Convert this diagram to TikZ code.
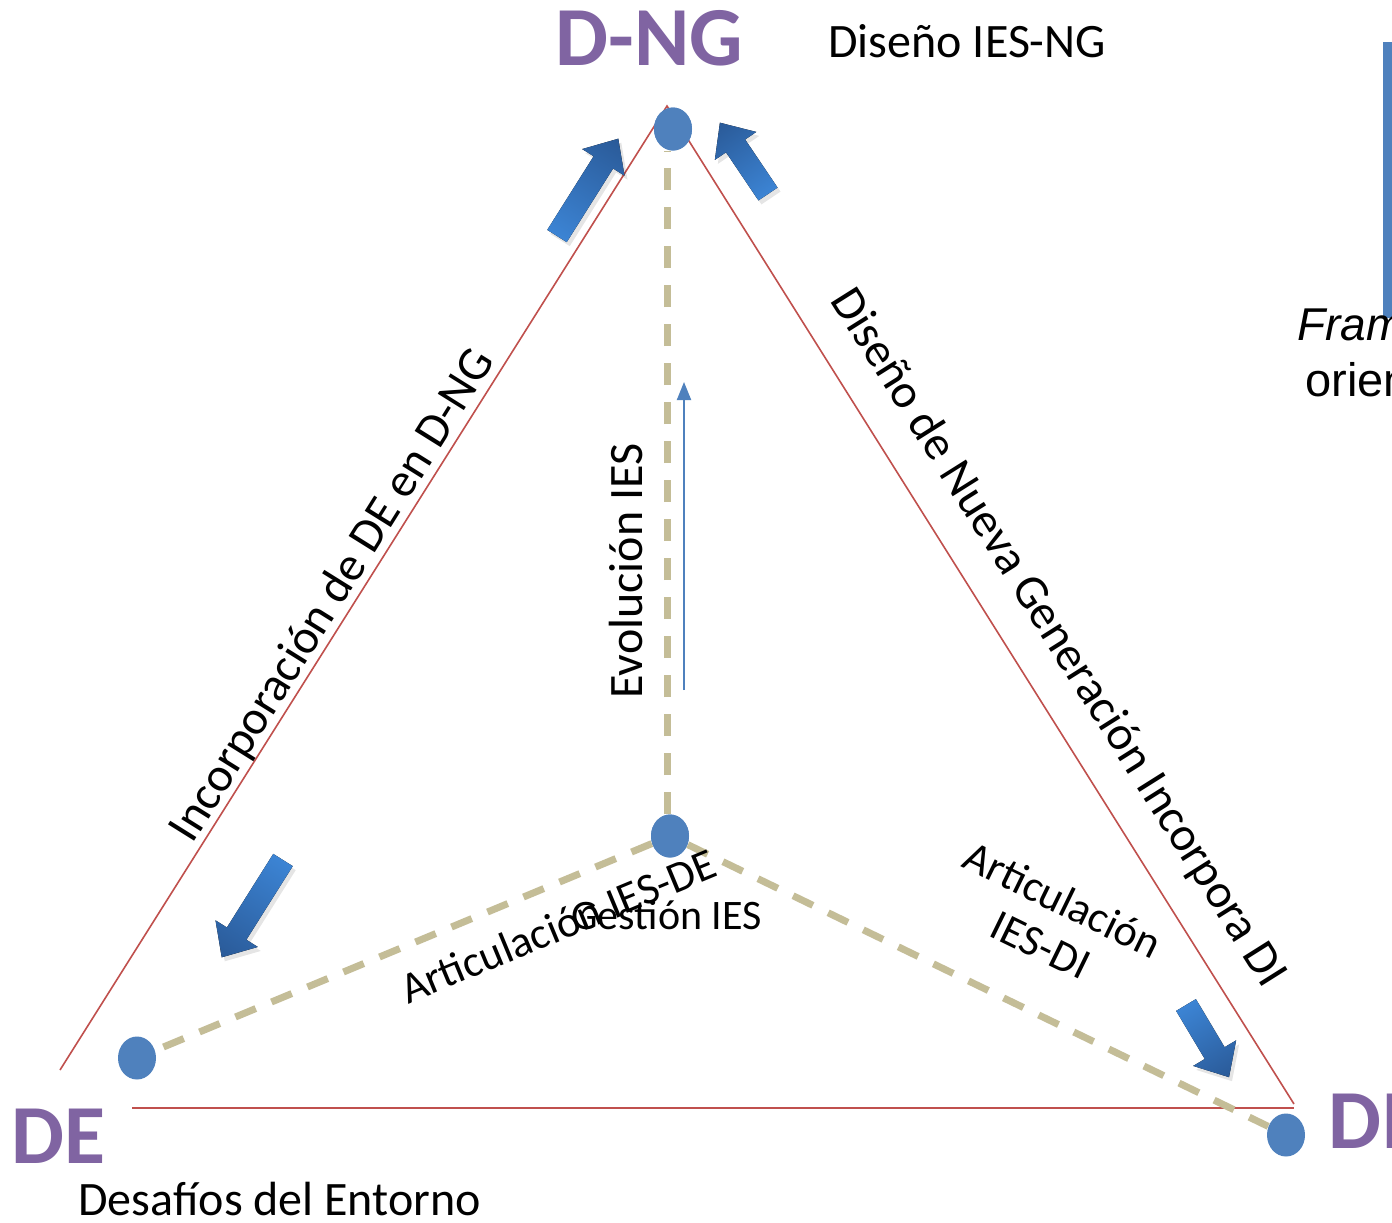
\documentclass[tikz,border=0pt]{standalone}
\usepackage{fontspec}
\setmainfont{Carlito}
\newfontfamily\arialfont{Liberation Sans}
\usetikzlibrary{shapes.geometric,arrows.meta}

\definecolor{edgered}{HTML}{C0504D}
\definecolor{dotblue}{HTML}{4F81BD}
\definecolor{dashtan}{HTML}{C4BD97}
\definecolor{headpurple}{HTML}{8064A2}
\definecolor{arrowlight}{RGB}{60,132,212}
\definecolor{arrowdark}{RGB}{42,90,152}

% block arrow: tail x, tail y, direction (deg), length
\newcommand\blkarrow[4]{%
  \begin{scope}[transform canvas={shift={(#1+3,#2+4)},rotate=#3}]
    \fill[black,opacity=0.10]
      (0,-11.5) -- ({#4-28},-11.5) -- ({#4-28},-25) -- (#4,0)
      -- ({#4-28},25) -- ({#4-28},11.5) -- (0,11.5) -- cycle;
  \end{scope}
  \begin{scope}[transform canvas={shift={(#1,#2)},rotate=#3}]
    \fill[blockarrow]
      (0,-11.5) -- ({#4-28},-11.5) -- ({#4-28},-25) -- (#4,0)
      -- ({#4-28},25) -- ({#4-28},11.5) -- (0,11.5) -- cycle;
  \end{scope}}

\tikzset{
  vertexdot/.style={ellipse, fill=dotblue, minimum width=19pt, minimum height=21.5pt, inner sep=0},
  rededge/.style={draw=edgered, line width=0.8pt},
  dashlink/.style={draw=dashtan, line width=3.5pt, dash pattern=on 11pt off 8.5pt},
  blockarrow/.style={left color=arrowlight, right color=arrowdark},
  title/.style={font=\fontsize{42}{50}\selectfont\bfseries, text=headpurple, inner sep=0},
  body/.style={font=\fontsize{24}{29}\selectfont, inner sep=0},
  smalllabel/.style={font=\fontsize{22}{25}\selectfont, inner sep=0},
}

\begin{document}
\begin{tikzpicture}[x=0.5pt, y=-0.5pt]
  \useasboundingbox[fill=white] (0,0) rectangle (1392,1222);
  \clip (0,0) rectangle (1392,1222);

  % triangle outline
  \coordinate (apex) at (667,106);
  \coordinate (leftfoot) at (60,1070);
  \coordinate (rightfoot) at (1294,1104);
  \coordinate (basel) at (132,1108);
  \coordinate (baser) at (1294,1108);
  \draw[rededge] (leftfoot) -- (apex) -- (rightfoot);
  \draw[rededge] (basel) -- (baser);

  % vertices
  \node[vertexdot] (top) at (673,129) {};
  \node[vertexdot] (mid) at (670,836) {};
  \node[vertexdot] (lft) at (137,1058) {};
  \node[vertexdot] (rgt) at (1286,1135) {};

  % dashed links from the centre
  \draw[dashlink] ([xshift=-1.5pt]mid.north) -- ([xshift=-3pt]top.south);
  \draw[dashlink] (mid) -- (lft);
  \draw[dashlink] (mid) -- (rgt);
  \node[vertexdot] at (mid) {};
  \node[vertexdot] at (top) {};

  % evolution arrow
  \coordinate (evofrom) at (684,690);
  \coordinate (evoto) at (684,382);
  \draw[dotblue, line width=1pt, -{Triangle[length=9pt,width=7pt]}] (evofrom) -- (evoto);

  % block arrows
  \blkarrow{557}{236}{57.8}{115}
  \blkarrow{768}{194}{124}{86}
  \blkarrow{283}{860}{237.8}{115}
  \blkarrow{1186}{1005}{-59.2}{84}

  % side bar
  \fill[dotblue] (1383,42) rectangle (1392,318);

  % labels
  \node[title, anchor=base west] (dng) at (555,65) {D-NG};
  \node[body, anchor=base west] (dngtxt) at (828,57) {Diseño IES-NG};
  \node[title, anchor=base west] (de) at (11,1163) {DE};
  \node[body, anchor=base west] (detxt) at (78,1215) {Desafíos del Entorno};
  \node[title, anchor=base west] (di) at (1328,1148) {DI};

  \node[body, anchor=base, rotate=58] (lefttxt) at (344,603) {Incorporación de DE en D-NG};
  \node[body, anchor=base, rotate=-57.8] (righttxt) at (1047,645) {Diseño de Nueva Generación Incorpora DI};
  \node[body, anchor=base, rotate=90] (evo) at (642,571) {Evolución IES};
  \node[smalllabel, anchor=base, rotate=22.5] (artde) at (564,940) {Articulación IES-DE};
  \node[font=\fontsize{21}{25}\selectfont, inner sep=0, anchor=base west] (gest) at (571,929) {Gestión IES};
  \node[smalllabel, align=center, rotate=-26] (artdi) at (1052,922) {Articulación\\IES-DI};

  \node[font=\arialfont\itshape\fontsize{23}{28}\selectfont, inner sep=0, anchor=base west] (fram) at (1297,340) {Fram};
  \node[font=\arialfont\fontsize{23.5}{28}\selectfont, inner sep=0, anchor=base west] (orien) at (1305,396) {orien};
\end{tikzpicture}
\end{document}
